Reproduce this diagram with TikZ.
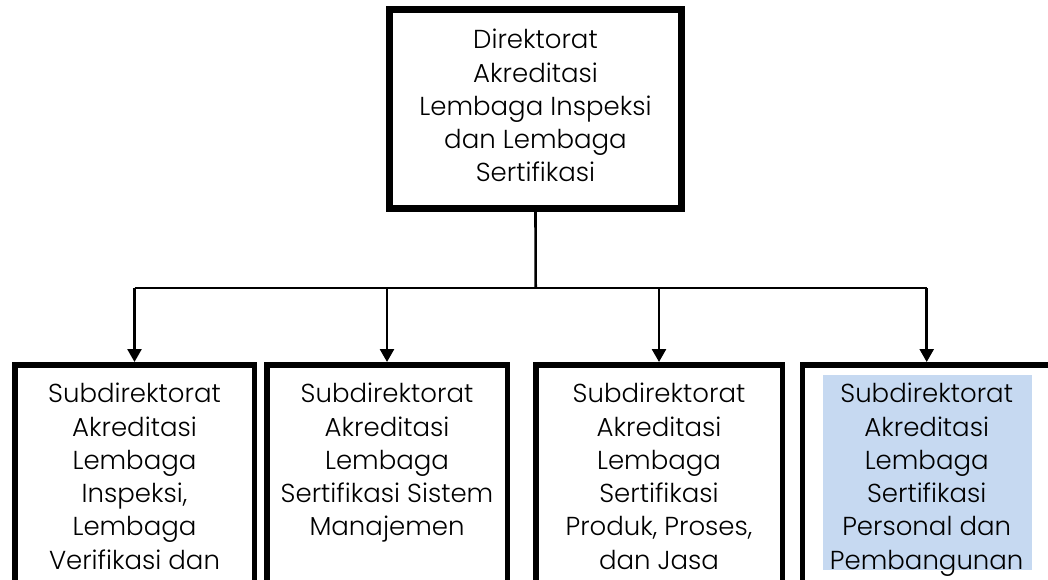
\documentclass[tikz,border=0pt]{standalone}
\usepackage{fontspec}
\setmainfont{Poppins}[UprightFont=* Light]
\usetikzlibrary{arrows.meta}
\definecolor{hl}{RGB}{198,217,241}
\tikzset{
  topbox/.style={draw=black, line width=7pt, minimum width=292pt, minimum height=199pt, inner sep=0pt},
  subbox/.style={draw=black, line width=5.5pt, minimum height=219.7pt, inner sep=0pt, anchor=north},
  label/.style={align=center, inner sep=0pt, anchor=north, font=\fontsize{26}{33.3}\selectfont, execute at begin node=\strut},
  conn/.style={line width=2.6pt},
  arr/.style={conn, -{Triangle[width=14pt,length=13pt]}},
}
\begin{document}
\begin{tikzpicture}[x=1pt,y=-1pt]
\useasboundingbox (0,0) rectangle (1048,580);
\begin{scope}
\clip (0,0) rectangle (1048,580);
\node[topbox] (top) at (535.5,109) {};
\node[label] (toptext) at (535.5,29) {Direktorat\\Akreditasi\\Lembaga Inspeksi\\dan Lembaga\\Sertifikasi};

\node[subbox, minimum width=239.5pt] (b1) at (134.5,362) {};
\node[subbox, minimum width=240.5pt] (b2) at (387,362) {};
\node[subbox, minimum width=246.5pt] (b3) at (659,362) {};
\node[subbox, minimum width=248pt] (b4) at (926.7,362) {};

\fill[hl] (823,375) rectangle (1032,569.5);

\node[label] (t1) at (134.5,383) {Subdirektorat\\Akreditasi\\Lembaga\\Inspeksi,\\Lembaga\\Verifikasi dan};
\node[label] (t2) at (387,383) {Subdirektorat\\Akreditasi\\Lembaga\\Sertifikasi Sistem\\Manajemen};
\node[label] (t3) at (659,383) {Subdirektorat\\Akreditasi\\Lembaga\\Sertifikasi\\Produk, Proses,\\dan Jasa};
\node[label] (t4) at (926.7,383) {Subdirektorat\\Akreditasi\\Lembaga\\Sertifikasi\\Personal dan\\Pembangunan};

\coordinate (j) at (535.7,288);
\draw[conn] (top.south) -- (j);
\draw[conn] (j -| b1.north) -- (j -| b4.north);
\draw[arr] (j -| b1.north) -- (b1.north);
\draw[arr] (j -| b2.north) -- (b2.north);
\draw[arr] (j -| b3.north) -- (b3.north);
\draw[arr] (j -| b4.north) -- (b4.north);
\end{scope}
\end{tikzpicture}
\end{document}
